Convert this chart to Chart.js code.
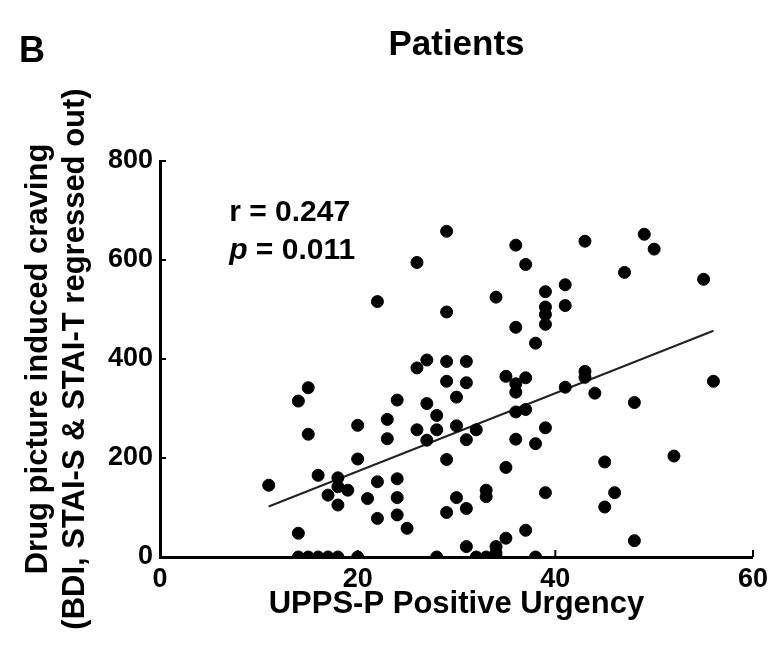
<!DOCTYPE html>
<html>
<head>
<meta charset="utf-8">
<script src="https://cdn.jsdelivr.net/npm/chart.js@4"></script>
<style>
  html, body { margin: 0; padding: 0; background: #fff; }
  #wrap { width: 774px; height: 647px; }
</style>
</head>
<body>
<div id="wrap"><canvas id="chart" width="774" height="647"></canvas></div>
<script>
// UPPS-P Positive Urgency (x) vs drug picture induced craving (y), patients
const urgency = [
  11, 14, 15, 15, 14, 14, 15, 16, 17, 18, 20, 28,
  16, 18, 17, 18, 19, 18, 20, 20, 21, 22, 22, 23, 23,
  24, 24, 24, 24, 25, 26, 27, 27, 28, 26, 27, 28,
  29, 29, 29, 29, 30, 30, 30, 29, 26, 22, 29,
  36, 37, 43, 49, 50, 47, 55, 34, 39, 39, 39, 41, 41, 39, 36, 38,
  31, 31, 35, 37, 36, 36, 43, 43, 41, 44, 56, 48,
  36, 37, 32, 31, 39, 36, 38, 35, 45, 52,
  31, 33, 33, 39, 46, 45, 48, 37, 35, 31, 34, 32, 33, 34, 38, 34
];
const craving = [
  145, 315, 342, 248, 48, 0, 0, 0, 0, 0, 0, 0,
  165, 160, 125, 142, 135, 105, 198, 266, 118, 152, 78, 278, 239,
  317, 158, 120, 85, 58, 382, 398, 310, 286, 257, 236, 257,
  395, 355, 197, 90, 323, 265, 120, 658, 595, 516, 495,
  630, 591, 638, 652, 622, 575, 561, 525, 536, 505, 490, 550, 508, 470, 464, 432,
  395, 352, 365, 362, 350, 333, 375, 363, 343, 331, 355, 312,
  293, 298, 257, 237, 261, 238, 229, 181, 192, 204,
  98, 135, 122, 130, 130, 101, 33, 54, 38, 21, 21, 0, 0, 0, 0, 8
];

// regression line end points
const fitX = [11, 56];
const fitY = [102, 457];

const xTicks = [0, 20, 40, 60];
const yTicks = [0, 200, 400, 600, 800];

const FONT = "'Liberation Sans', Arial, Helvetica, sans-serif";

const points = urgency.map((x, i) => ({ x: x, y: craving[i] }));
const fitLine = fitX.map((x, i) => ({ x: x, y: fitY[i] }));

// inward tick marks, panel letter and r / p annotation
const extras = {
  id: 'extras',
  afterDraw(chart) {
    const ctx = chart.ctx;
    const xs = chart.scales.x, ys = chart.scales.y;
    const area = chart.chartArea;
    ctx.save();
    ctx.strokeStyle = '#000';
    ctx.lineWidth = 2;
    yTicks.forEach(v => {
      const py = ys.getPixelForValue(v);
      ctx.beginPath();
      ctx.moveTo(area.left, py);
      ctx.lineTo(area.left + 6, py);
      ctx.stroke();
    });
    xTicks.forEach(v => {
      const px = xs.getPixelForValue(v);
      ctx.beginPath();
      ctx.moveTo(px, area.bottom);
      ctx.lineTo(px, area.bottom - 7);
      ctx.stroke();
    });

    ctx.fillStyle = '#000';
    ctx.textBaseline = 'alphabetic';
    ctx.textAlign = 'left';
    ctx.font = 'bold 36px ' + FONT;
    ctx.fillText('B', 19, 62);

    const ax = xs.getPixelForValue(7);
    ctx.font = 'bold 30px ' + FONT;
    ctx.fillText('r = 0.247', ax, ys.getPixelForValue(678));
    const by = ys.getPixelForValue(602);
    ctx.font = 'italic bold 30px ' + FONT;
    ctx.fillText('p', ax, by);
    const pw = ctx.measureText('p').width;
    ctx.font = 'bold 30px ' + FONT;
    ctx.fillText(' = 0.011', ax + pw, by);
    ctx.restore();
  }
};

new Chart(document.getElementById('chart').getContext('2d'), {
  type: 'scatter',
  data: {
    datasets: [
      {
        label: 'Patients',
        data: points,
        backgroundColor: '#000',
        borderColor: '#000',
        pointRadius: 6,
        pointHoverRadius: 6
      },
      {
        label: 'Fit',
        type: 'line',
        data: fitLine,
        borderColor: '#222',
        borderWidth: 2,
        pointRadius: 0,
        fill: false
      }
    ]
  },
  options: {
    responsive: false,
    animation: false,
    events: [],
    layout: {
      padding: { left: 0, right: 21, top: 0, bottom: 0 }
    },
    plugins: {
      legend: { display: false },
      tooltip: { enabled: false },
      title: {
        display: true,
        fullSize: false,  // centre over the plot area, not the canvas
        text: 'Patients',
        color: '#000',
        font: { family: FONT, size: 35, weight: 'bold', lineHeight: 1.2 },
        padding: { top: 24, bottom: 95 }
      }
    },
    scales: {
      x: {
        type: 'linear',
        min: 0,
        max: 60,
        afterFit: s => { s.height = 90; },
        afterBuildTicks: s => { s.ticks = xTicks.map(v => ({ value: v })); },
        grid: { display: false, drawTicks: false },
        border: { display: true, color: '#000', width: 3 },
        ticks: {
          color: '#000',
          padding: 6,
          font: { family: FONT, size: 27, weight: 'bold', lineHeight: 1.2 }
        },
        title: {
          display: true,
          text: 'UPPS-P Positive Urgency',
          color: '#000',
          font: { family: FONT, size: 31, weight: 'bold', lineHeight: 1.2 },
          padding: { top: 0, bottom: 24 }
        }
      },
      y: {
        type: 'linear',
        min: 0,
        max: 800,
        afterFit: s => { s.width = 160; },
        afterBuildTicks: s => { s.ticks = yTicks.map(v => ({ value: v })); },
        grid: { display: false, drawTicks: false },
        border: { display: true, color: '#000', width: 3 },
        ticks: {
          color: '#000',
          padding: 7,
          font: { family: FONT, size: 27, weight: 'bold', lineHeight: 1.2 }
        },
        title: {
          display: true,
          text: ['Drug picture induced craving', '(BDI, STAI-S & STAI-T regressed out)'],
          color: '#000',
          font: { family: FONT, size: 31, weight: 'bold', lineHeight: 1.2 },
          padding: { top: 20, bottom: 0 }
        }
      }
    }
  },
  plugins: [extras]
});
</script>
</body>
</html>
